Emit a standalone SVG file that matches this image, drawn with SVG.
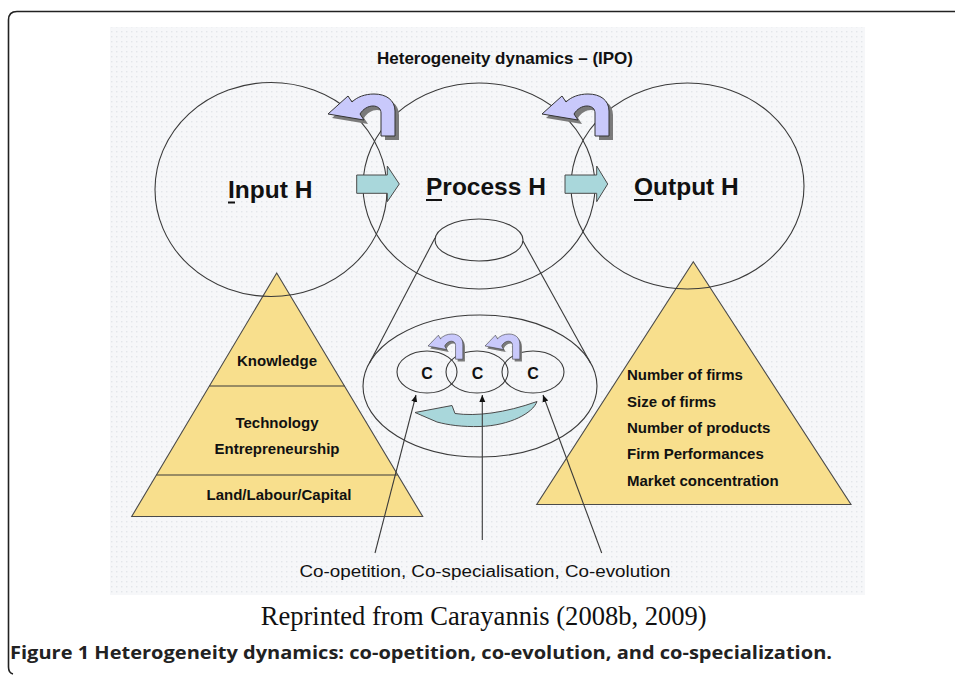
<svg xmlns="http://www.w3.org/2000/svg" xmlns:xlink="http://www.w3.org/1999/xlink" width="955" height="675" viewBox="0 0 955 675">
<defs>
<style>
.ln{fill:none;stroke:#3a3a3a;stroke-width:1.1}
.pyr{fill:#f8df8d;stroke:#4a4a4a;stroke-width:1.1}
.lbl{font-family:"Liberation Sans",Arial,sans-serif;font-weight:bold;fill:#111}
.big{font-family:"Liberation Sans",Arial,sans-serif;font-weight:bold;font-size:24.5px;fill:#111}
.pl{font-family:"Liberation Sans",Arial,sans-serif;font-weight:bold;font-size:15px;fill:#111}
.cyan{fill:#a9d7db;stroke:#4a4a4a;stroke-width:1}
.purple{fill:#c9c9fb;stroke:#333;stroke-width:1}
.shadow{fill:#7a7a7a}
.ul{stroke:#111;stroke-width:2}
</style>
<pattern id="dots" width="5" height="5" patternUnits="userSpaceOnUse">
<rect width="5" height="5" fill="#f6f7f9"/>
<rect x="1" y="1" width="1.4" height="1.4" fill="#e3e6ea"/>
</pattern>
<marker id="ah" markerWidth="8" markerHeight="8" refX="7" refY="4" orient="auto" markerUnits="userSpaceOnUse">
<path d="M0 1 L7 4 L0 7 Z" fill="#111"/>
</marker>
<g id="uturn">
<path class="shadow" transform="translate(4,4)" d="M67 42 L67 17 C67 6 58 0 46 0 C37 0 29 3 24 8 L20 2 L0 20 L36 26 L32 20 C35 15 40 12 45 12 C50 12 53 15 53 19 L53 42 Z"/>
<path class="purple" d="M67 42 L67 17 C67 6 58 0 46 0 C37 0 29 3 24 8 L20 2 L0 20 L36 26 L32 20 C35 15 40 12 45 12 C50 12 53 15 53 19 L53 42 Z"/>
</g>
</defs>
<rect width="955" height="675" fill="#ffffff"/>
<path d="M955 11.5 L17 11.5 Q8.5 11.5 8.5 20 L8.5 667 Q8.5 673 13 674" fill="none" stroke="#222" stroke-width="1.6"/>
<rect x="110" y="27" width="755" height="568" fill="url(#dots)"/>

<text class="lbl" x="377" y="64" font-size="17" textLength="256" lengthAdjust="spacingAndGlyphs">Heterogeneity dynamics – (IPO)</text>

<g id="pyramid-input">
<polygon class="pyr" points="276.7,273 422.7,516.5 131.7,516.5"/>
<line class="ln" x1="209.5" y1="386" x2="344.5" y2="386"/>
<line class="ln" x1="156.5" y1="475" x2="397.5" y2="475"/>
<text class="pl" x="277" y="366" text-anchor="middle">Knowledge</text>
<text class="pl" x="277" y="427.5" text-anchor="middle">Technology</text>
<text class="pl" x="277" y="454" text-anchor="middle">Entrepreneurship</text>
<text class="pl" x="279" y="499.5" text-anchor="middle">Land/Labour/Capital</text>
</g>

<g id="pyramid-output">
<polygon class="pyr" points="693.3,261.7 851,504.5 536.7,504.5"/>
<text class="pl" x="627" y="380">Number of firms</text>
<text class="pl" x="627" y="406.7">Size of firms</text>
<text class="pl" x="627" y="432.7">Number of products</text>
<text class="pl" x="627" y="459">Firm Performances</text>
<text class="pl" x="627" y="485.7">Market concentration</text>
</g>

<g id="input-h">
<ellipse class="ln" cx="271" cy="189.5" rx="116" ry="107"/>
<text class="big" x="228" y="198">Input H</text>
<line class="ul" x1="228" y1="202.5" x2="235" y2="202.5"/>
</g>
<g id="process-h">
<ellipse class="ln" cx="479" cy="186" rx="116" ry="103"/>
<ellipse class="ln" cx="479" cy="240" rx="44" ry="21"/>
<text class="big" x="426" y="195">Process H</text>
<line class="ul" x1="426" y1="200" x2="442" y2="200"/>
</g>
<g id="output-h">
<ellipse class="ln" cx="687.5" cy="186" rx="116.5" ry="103"/>
<text class="big" x="634" y="195">Output H</text>
<line class="ul" x1="634" y1="200" x2="653" y2="200"/>
</g>

<g id="co-cluster">
<ellipse class="ln" cx="480" cy="386" rx="117" ry="71"/>
<ellipse class="ln" cx="427" cy="372" rx="30" ry="21"/>
<ellipse class="ln" cx="477" cy="372" rx="31" ry="21"/>
<ellipse class="ln" cx="533" cy="372" rx="31" ry="21"/>
<text class="lbl" x="427" y="378.5" font-size="16" text-anchor="middle">C</text>
<text class="lbl" x="477.5" y="378.5" font-size="16" text-anchor="middle">C</text>
<text class="lbl" x="533" y="378.5" font-size="16" text-anchor="middle">C</text>
<path class="cyan" d="M415 412.5 L452 405.5 L455 413.5 C476 416.5 505 413 537 401.5 C533 413 510 425.5 480 426.5 C462 427 448 425 437 422 Z"/>
<use xlink:href="#uturn" transform="translate(428,334) scale(0.52,0.6)"/>
<use xlink:href="#uturn" transform="translate(485,334) scale(0.52,0.6)"/>
</g>

<g id="connectors">
<line class="ln" x1="435" y1="238" x2="369.5" y2="363"/>
<line class="ln" x1="523" y1="241" x2="590.5" y2="363"/>
<line class="ln" x1="375" y1="553" x2="416" y2="395" marker-end="url(#ah)"/>
<line class="ln" x1="482.3" y1="540" x2="482.3" y2="395" marker-end="url(#ah)"/>
<line class="ln" x1="601.7" y1="553" x2="543" y2="395" marker-end="url(#ah)"/>
<path class="cyan" d="M356.7 175 L387.3 175 L387.3 166 L399.3 184 L387.3 201.7 L387.3 193.3 L356.7 193.3 Z"/>
<path class="cyan" d="M565 175 L596.7 175 L596.7 166 L607.7 184 L596.7 201.7 L596.7 193.3 L565 193.3 Z"/>
<use xlink:href="#uturn" transform="translate(328,94)"/>
<use xlink:href="#uturn" transform="translate(542,94)"/>
</g>

<text x="299.5" y="577" font-family="'Liberation Sans',Arial,sans-serif" font-size="16" fill="#111" textLength="371" lengthAdjust="spacingAndGlyphs">Co-opetition, Co-specialisation, Co-evolution</text>
<text x="260.7" y="625" font-family="'Liberation Serif','Times New Roman',serif" font-size="26.5" fill="#111" textLength="446" lengthAdjust="spacingAndGlyphs">Reprinted from Carayannis (2008b, 2009)</text>
<text x="10" y="659" font-family="'Open Sans','Liberation Sans',sans-serif" font-weight="bold" font-size="18" fill="#222" textLength="822" lengthAdjust="spacingAndGlyphs">Figure 1 Heterogeneity dynamics: co-opetition, co-evolution, and co-specialization.</text>
</svg>
